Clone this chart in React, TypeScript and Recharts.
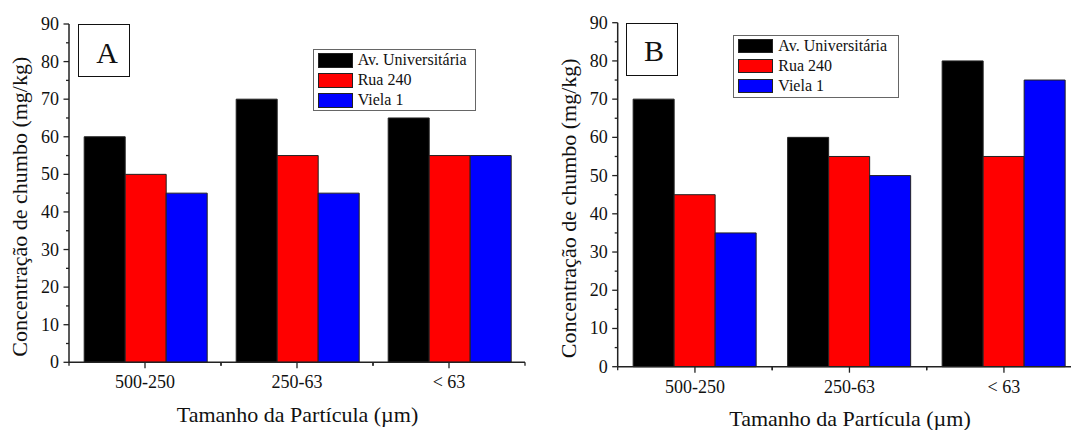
import React from 'react';
import { BarChart, Bar, XAxis, YAxis, Legend, Label } from 'recharts';

const categories = ['500-250', '250-63', '< 63'];
const seriesNames = ['Av. Universitária', 'Rua 240', 'Viela 1'];
const seriesColors = ['#000000', '#ff0000', '#0000ff'];

const avA = [60, 70, 65];
const ruaA = [50, 55, 55];
const vielaA = [45, 45, 55];

const avB = [70, 60, 80];
const ruaB = [45, 55, 55];
const vielaB = [35, 50, 75];

const yTicks = [0, 5, 10, 15, 20, 25, 30, 35, 40, 45, 50, 55, 60, 65, 70, 75, 80, 85, 90];
const yTitle = 'Concentração de chumbo (mg/kg)';
const xTitle = 'Tamanho da Partícula (µm)';

const FONT = "'Liberation Serif', 'Times New Roman', serif";
const INK = '#111';
const AXIS = '#222';

function buildData(av: number[], rua: number[], viela: number[]) {
  return categories.map((c, i) => ({ cat: c, av: av[i], rua: rua[i], viela: viela[i] }));
}

const txtStyle = (size: number) => ({ fontFamily: FONT, fontSize: size, fill: INK });

const YTick = (props: any) => {
  const { x, y, payload } = props;
  const major = payload.value % 10 === 0;
  return (
    <g>
      <line x1={x} x2={x - (major ? 5.5 : 3)} y1={y} y2={y} stroke={AXIS} strokeWidth={1.3} />
      {major && (
        <text x={x - 10} y={y} textAnchor="end" dominantBaseline="central" style={txtStyle(18)}>
          {payload.value}
        </text>
      )}
    </g>
  );
};

const makeXTick = (half: number) => (props: any) => {
  const { x, y, payload } = props;
  return (
    <g>
      <line x1={x} x2={x} y1={y} y2={y + 6} stroke={AXIS} strokeWidth={1.3} />
      <line x1={x - half} x2={x - half} y1={y} y2={y + 3.5} stroke={AXIS} strokeWidth={1.3} />
      <line x1={x + half} x2={x + half} y1={y} y2={y + 3.5} stroke={AXIS} strokeWidth={1.3} />
      <text x={x} y={y + 20} textAnchor="middle" dominantBaseline="central" style={txtStyle(18)}>
        {payload.value}
      </text>
    </g>
  );
};

const renderLegend = (props: any) => {
  const { payload } = props;
  return (
    <div
      style={{
        border: '1.5px solid #666',
        boxSizing: 'border-box',
        width: '100%',
        height: '100%',
        background: '#fff',
        paddingLeft: 4,
      }}
    >
      {(payload || []).map((entry: any) => (
        <div key={entry.value} style={{ display: 'flex', alignItems: 'center', height: 20 }}>
          <span
            style={{
              display: 'inline-block',
              width: 35,
              height: 14.5,
              background: entry.color,
              border: '1px solid #222',
              boxSizing: 'border-box',
            }}
          />
          <span style={{ marginLeft: 5, fontSize: 16, fontFamily: FONT, color: INK, lineHeight: '20px' }}>
            {entry.value}
          </span>
        </div>
      ))}
    </div>
  );
};

type PanelProps = {
  left: number;
  width: number;
  height: number;
  plotLeft: number;
  plotRight: number;
  plotTop: number;
  plotBottom: number;
  data: any[];
  legend: { left: number; top: number; width: number; height: number };
  yTitlePos: { x: number; y: number };
  xTitlePos: { x: number; y: number };
};

const Y_AXIS_W = 40;
const X_AXIS_H = 30;

function Panel(p: PanelProps) {
  const plotWidth = p.plotRight - p.plotLeft;
  const half = plotWidth / categories.length / 2;
  const margin = {
    top: p.plotTop,
    bottom: p.height - p.plotBottom - X_AXIS_H,
    left: p.plotLeft - Y_AXIS_W,
    right: p.width - p.plotRight,
  };
  return (
    <div style={{ position: 'absolute', left: p.left, top: 0, width: p.width, height: p.height }}>
      <BarChart width={p.width} height={p.height} data={p.data} margin={margin} barCategoryGap="10%" barGap={0}>
        <XAxis
          dataKey="cat"
          height={X_AXIS_H}
          tickSize={0}
          tickMargin={0}
          tickLine={false}
          interval={0}
          axisLine={{ stroke: AXIS, strokeWidth: 1.5 }}
          tick={makeXTick(half)}
        >
          <Label
            content={() => (
              <text x={p.xTitlePos.x} y={p.xTitlePos.y} textAnchor="middle" style={txtStyle(22)}>
                {xTitle}
              </text>
            )}
          />
        </XAxis>
        <YAxis
          type="number"
          domain={[0, 90]}
          ticks={yTicks}
          width={Y_AXIS_W}
          tickSize={0}
          tickMargin={0}
          tickLine={false}
          interval={0}
          axisLine={{ stroke: AXIS, strokeWidth: 1.5 }}
          tick={YTick}
        >
          <Label
            content={() => (
              <text
                x={p.yTitlePos.x}
                y={p.yTitlePos.y}
                transform={`rotate(-90, ${p.yTitlePos.x}, ${p.yTitlePos.y})`}
                textAnchor="middle"
                style={txtStyle(22)}
              >
                {yTitle}
              </text>
            )}
          />
        </YAxis>
        <Legend
          layout="vertical"
          align="center"
          verticalAlign="middle"
          content={renderLegend}
          wrapperStyle={{ left: p.legend.left, top: p.legend.top, width: p.legend.width, height: p.legend.height }}
        />
        <Bar dataKey="av" name={seriesNames[0]} fill={seriesColors[0]} stroke="#222" strokeWidth={1} isAnimationActive={false} />
        <Bar dataKey="rua" name={seriesNames[1]} fill={seriesColors[1]} stroke="#222" strokeWidth={1} isAnimationActive={false} />
        <Bar dataKey="viela" name={seriesNames[2]} fill={seriesColors[2]} stroke="#222" strokeWidth={1} isAnimationActive={false} />
      </BarChart>
    </div>
  );
}

function LetterBox(props: { left: number; top: number; w: number; h: number; letter: string; cx: number; baseline: number }) {
  return (
    <>
      <div
        style={{
          position: 'absolute',
          left: props.left,
          top: props.top,
          width: props.w,
          height: props.h,
          border: '1.5px solid #111',
          boxSizing: 'border-box',
          background: '#fff',
        }}
      />
      <div
        style={{
          position: 'absolute',
          left: props.cx - 30,
          width: 60,
          top: props.baseline - 25.1,
          height: 30,
          lineHeight: '30px',
          fontSize: 30,
          fontFamily: FONT,
          color: INK,
          textAlign: 'center',
        }}
      >
        {props.letter}
      </div>
    </>
  );
}

export default function App() {
  const dataA = buildData(avA, ruaA, vielaA);
  const dataB = buildData(avB, ruaB, vielaB);
  return (
    <div
      style={{
        position: 'absolute',
        left: 0,
        top: 0,
        width: 1071,
        height: 430,
        overflow: 'hidden',
        background: '#fff',
        fontFamily: FONT,
      }}
    >
      <Panel
        left={0}
        width={540}
        height={430}
        plotLeft={69}
        plotRight={525}
        plotTop={24}
        plotBottom={362.3}
        data={dataA}
        legend={{ left: 312.7, top: 49.3, width: 163.3, height: 61.7 }}
        yTitlePos={{ x: 27.5, y: 206.7 }}
        xTitlePos={{ x: 297.5, y: 422 }}
      />
      <Panel
        left={540}
        width={560}
        height={430}
        plotLeft={77.7}
        plotRight={541.2}
        plotTop={22.7}
        plotBottom={366.7}
        data={dataB}
        legend={{ left: 193.3, top: 35, width: 166, height: 62.7 }}
        yTitlePos={{ x: 36, y: 208.3 }}
        xTitlePos={{ x: 310, y: 426 }}
      />
      <LetterBox left={77.7} top={24} w={52} h={53} letter="A" cx={107} baseline={63.3} />
      <LetterBox left={625.7} top={23.3} w={52} h={52.7} letter="B" cx={654} baseline={61} />
    </div>
  );
}
